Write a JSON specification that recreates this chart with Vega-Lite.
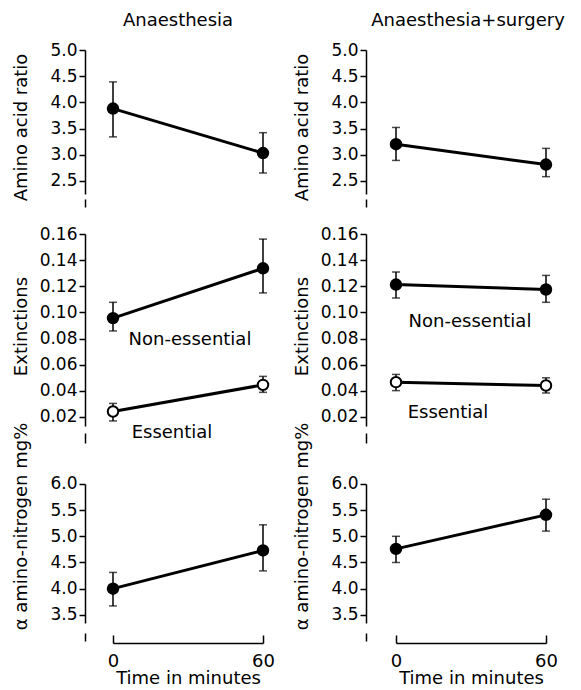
{
  "$schema": "https://vega.github.io/schema/vega-lite/v6.json",
  "background": "white",
  "padding": {"left": 12, "top": 12, "right": 5, "bottom": 5},
  "datasets": {
    "main": [
      {"panel": "A", "series": "main", "t": 0, "mean": 3.88, "lo": 3.34, "hi": 4.39},
      {"panel": "A", "series": "main", "t": 60, "mean": 3.03, "lo": 2.65, "hi": 3.42},
      {"panel": "B", "series": "main", "t": 0, "mean": 3.2, "lo": 2.89, "hi": 3.52},
      {"panel": "B", "series": "main", "t": 60, "mean": 2.81, "lo": 2.58, "hi": 3.12},
      {"panel": "C", "series": "Non-essential", "t": 0, "mean": 0.0956, "lo": 0.0858, "hi": 0.1077},
      {"panel": "C", "series": "Non-essential", "t": 60, "mean": 0.1337, "lo": 0.1149, "hi": 0.1561},
      {"panel": "C", "series": "Essential", "t": 0, "mean": 0.0241, "lo": 0.0169, "hi": 0.0303},
      {"panel": "C", "series": "Essential", "t": 60, "mean": 0.0445, "lo": 0.0388, "hi": 0.051},
      {"panel": "D", "series": "Non-essential", "t": 0, "mean": 0.1213, "lo": 0.111, "hi": 0.1309},
      {"panel": "D", "series": "Non-essential", "t": 60, "mean": 0.1175, "lo": 0.1077, "hi": 0.1283},
      {"panel": "D", "series": "Essential", "t": 0, "mean": 0.0466, "lo": 0.0401, "hi": 0.0525},
      {"panel": "D", "series": "Essential", "t": 60, "mean": 0.044, "lo": 0.0383, "hi": 0.0499},
      {"panel": "E", "series": "main", "t": 0, "mean": 4.0, "lo": 3.67, "hi": 4.31},
      {"panel": "E", "series": "main", "t": 60, "mean": 4.73, "lo": 4.34, "hi": 5.22},
      {"panel": "F", "series": "main", "t": 0, "mean": 4.76, "lo": 4.5, "hi": 5.0},
      {"panel": "F", "series": "main", "t": 60, "mean": 5.41, "lo": 5.1, "hi": 5.71}
    ],
    "labels": [
      {"panel": "C", "label": "Non-essential", "t": 30.8, "v": 0.079},
      {"panel": "C", "label": "Essential", "t": 23.6, "v": 0.008},
      {"panel": "D", "label": "Non-essential", "t": 29.6, "v": 0.093},
      {"panel": "D", "label": "Essential", "t": 20.8, "v": 0.0233}
    ]
  },
  "data": {"name": "main"},
  "columns": 2,
  "spacing": {"row": 27, "column": 133},
  "bounds": "flush",
  "resolve": {"scale": {"x": "independent", "y": "independent"}},
  "concat": [
    {
      "width": 150, "height": 157,
      "title": {"text": "Anaesthesia", "dx": -10},
      "transform": [{"filter": "datum.panel === 'A'"}],
      "encoding": {"x": {"field": "t", "type": "quantitative", "scale": {"domain": [0, 60]}, "axis": null}},
      "layer": [
        {"mark": {"type": "rule", "color": "black", "strokeWidth": 1.5},
         "encoding": {"y": {"field": "lo", "type": "quantitative", "scale": {"domain": [2, 5], "nice": false},
           "axis": {"title": "Amino acid ratio", "values": [2.5, 3, 3.5, 4, 4.5, 5], "format": ".1f", "offset": 28, "titleY": 77, "domainDash": [8, 5, 600]}},
           "y2": {"field": "hi"}}},
        {"mark": {"type": "tick", "orient": "horizontal", "size": 8, "thickness": 1.5, "color": "black"},
         "encoding": {"y": {"field": "lo", "type": "quantitative",
           "axis": {"title": "Amino acid ratio", "values": [2.5, 3, 3.5, 4, 4.5, 5], "format": ".1f", "offset": 28, "titleY": 77, "domainDash": [8, 5, 600]}}}},
        {"mark": {"type": "tick", "orient": "horizontal", "size": 8, "thickness": 1.5, "color": "black"},
         "encoding": {"y": {"field": "hi", "type": "quantitative",
           "axis": {"title": "Amino acid ratio", "values": [2.5, 3, 3.5, 4, 4.5, 5], "format": ".1f", "offset": 28, "titleY": 77, "domainDash": [8, 5, 600]}}}},
        {"mark": {"type": "line", "color": "black", "strokeWidth": 3},
         "encoding": {"y": {"field": "mean", "type": "quantitative",
           "axis": {"title": "Amino acid ratio", "values": [2.5, 3, 3.5, 4, 4.5, 5], "format": ".1f", "offset": 28, "titleY": 77, "domainDash": [8, 5, 600]}}, "detail": {"field": "series"}}},
        {"mark": {"type": "point", "shape": "circle", "size": 110, "filled": true, "stroke": "black", "strokeWidth": 2, "opacity": 1},
         "encoding": {"y": {"field": "mean", "type": "quantitative",
           "axis": {"title": "Amino acid ratio", "values": [2.5, 3, 3.5, 4, 4.5, 5], "format": ".1f", "offset": 28, "titleY": 77, "domainDash": [8, 5, 600]}},
           "fill": {"field": "series", "type": "nominal", "scale": {"domain": ["main", "Non-essential", "Essential"], "range": ["black", "black", "white"]}, "legend": null}}}
      ]
    },
    {
      "width": 150, "height": 157,
      "title": {"text": "Anaesthesia+surgery", "dx": -3},
      "transform": [{"filter": "datum.panel === 'B'"}],
      "encoding": {"x": {"field": "t", "type": "quantitative", "scale": {"domain": [0, 60]}, "axis": null}},
      "layer": [
        {"mark": {"type": "rule", "color": "black", "strokeWidth": 1.5},
         "encoding": {"y": {"field": "lo", "type": "quantitative", "scale": {"domain": [2, 5], "nice": false},
           "axis": {"title": "Amino acid ratio", "values": [2.5, 3, 3.5, 4, 4.5, 5], "format": ".1f", "offset": 30, "titleY": 77, "domainDash": [8, 5, 600]}},
           "y2": {"field": "hi"}}},
        {"mark": {"type": "tick", "orient": "horizontal", "size": 8, "thickness": 1.5, "color": "black"},
         "encoding": {"y": {"field": "lo", "type": "quantitative",
           "axis": {"title": "Amino acid ratio", "values": [2.5, 3, 3.5, 4, 4.5, 5], "format": ".1f", "offset": 30, "titleY": 77, "domainDash": [8, 5, 600]}}}},
        {"mark": {"type": "tick", "orient": "horizontal", "size": 8, "thickness": 1.5, "color": "black"},
         "encoding": {"y": {"field": "hi", "type": "quantitative",
           "axis": {"title": "Amino acid ratio", "values": [2.5, 3, 3.5, 4, 4.5, 5], "format": ".1f", "offset": 30, "titleY": 77, "domainDash": [8, 5, 600]}}}},
        {"mark": {"type": "line", "color": "black", "strokeWidth": 3},
         "encoding": {"y": {"field": "mean", "type": "quantitative",
           "axis": {"title": "Amino acid ratio", "values": [2.5, 3, 3.5, 4, 4.5, 5], "format": ".1f", "offset": 30, "titleY": 77, "domainDash": [8, 5, 600]}}, "detail": {"field": "series"}}},
        {"mark": {"type": "point", "shape": "circle", "size": 110, "filled": true, "stroke": "black", "strokeWidth": 2, "opacity": 1},
         "encoding": {"y": {"field": "mean", "type": "quantitative",
           "axis": {"title": "Amino acid ratio", "values": [2.5, 3, 3.5, 4, 4.5, 5], "format": ".1f", "offset": 30, "titleY": 77, "domainDash": [8, 5, 600]}},
           "fill": {"field": "series", "type": "nominal", "scale": {"domain": ["main", "Non-essential", "Essential"], "range": ["black", "black", "white"]}, "legend": null}}}
      ]
    },
    {
      "width": 150, "height": 209,
      "transform": [{"filter": "datum.panel === 'C'"}],
      "encoding": {"x": {"field": "t", "type": "quantitative", "scale": {"domain": [0, 60]}, "axis": null}},
      "layer": [
        {"mark": {"type": "rule", "color": "black", "strokeWidth": 1.5},
         "encoding": {"y": {"field": "lo", "type": "quantitative", "scale": {"domain": [0, 0.16], "nice": false},
           "axis": {"title": "Extinctions", "values": [0.02, 0.04, 0.06, 0.08, 0.1, 0.12, 0.14, 0.16], "format": ".2f", "offset": 28, "titleY": 92, "domainDash": [10, 7, 600]}},
           "y2": {"field": "hi"}}},
        {"mark": {"type": "tick", "orient": "horizontal", "size": 8, "thickness": 1.5, "color": "black"},
         "encoding": {"y": {"field": "lo", "type": "quantitative",
           "axis": {"title": "Extinctions", "values": [0.02, 0.04, 0.06, 0.08, 0.1, 0.12, 0.14, 0.16], "format": ".2f", "offset": 28, "titleY": 92, "domainDash": [10, 7, 600]}}}},
        {"mark": {"type": "tick", "orient": "horizontal", "size": 8, "thickness": 1.5, "color": "black"},
         "encoding": {"y": {"field": "hi", "type": "quantitative",
           "axis": {"title": "Extinctions", "values": [0.02, 0.04, 0.06, 0.08, 0.1, 0.12, 0.14, 0.16], "format": ".2f", "offset": 28, "titleY": 92, "domainDash": [10, 7, 600]}}}},
        {"mark": {"type": "line", "color": "black", "strokeWidth": 3},
         "encoding": {"y": {"field": "mean", "type": "quantitative",
           "axis": {"title": "Extinctions", "values": [0.02, 0.04, 0.06, 0.08, 0.1, 0.12, 0.14, 0.16], "format": ".2f", "offset": 28, "titleY": 92, "domainDash": [10, 7, 600]}}, "detail": {"field": "series"}}},
        {"mark": {"type": "point", "shape": "circle", "size": 110, "filled": true, "stroke": "black", "strokeWidth": 2, "opacity": 1},
         "encoding": {"y": {"field": "mean", "type": "quantitative",
           "axis": {"title": "Extinctions", "values": [0.02, 0.04, 0.06, 0.08, 0.1, 0.12, 0.14, 0.16], "format": ".2f", "offset": 28, "titleY": 92, "domainDash": [10, 7, 600]}},
           "fill": {"field": "series", "type": "nominal", "scale": {"domain": ["main", "Non-essential", "Essential"], "range": ["black", "black", "white"]}, "legend": null}}},
        {"data": {"name": "labels"},
         "transform": [{"filter": "datum.panel === 'C'"}],
         "mark": {"type": "text", "fontSize": 18, "color": "black", "align": "center", "baseline": "middle"},
         "encoding": {"y": {"field": "v", "type": "quantitative",
           "axis": {"title": "Extinctions", "values": [0.02, 0.04, 0.06, 0.08, 0.1, 0.12, 0.14, 0.16], "format": ".2f", "offset": 28, "titleY": 92, "domainDash": [10, 7, 600]}}, "text": {"field": "label"}}}
      ]
    },
    {
      "width": 150, "height": 209,
      "transform": [{"filter": "datum.panel === 'D'"}],
      "encoding": {"x": {"field": "t", "type": "quantitative", "scale": {"domain": [0, 60]}, "axis": null}},
      "layer": [
        {"mark": {"type": "rule", "color": "black", "strokeWidth": 1.5},
         "encoding": {"y": {"field": "lo", "type": "quantitative", "scale": {"domain": [0, 0.16], "nice": false},
           "axis": {"title": "Extinctions", "values": [0.02, 0.04, 0.06, 0.08, 0.1, 0.12, 0.14, 0.16], "format": ".2f", "offset": 30, "titleY": 92, "domainDash": [10, 7, 600]}},
           "y2": {"field": "hi"}}},
        {"mark": {"type": "tick", "orient": "horizontal", "size": 8, "thickness": 1.5, "color": "black"},
         "encoding": {"y": {"field": "lo", "type": "quantitative",
           "axis": {"title": "Extinctions", "values": [0.02, 0.04, 0.06, 0.08, 0.1, 0.12, 0.14, 0.16], "format": ".2f", "offset": 30, "titleY": 92, "domainDash": [10, 7, 600]}}}},
        {"mark": {"type": "tick", "orient": "horizontal", "size": 8, "thickness": 1.5, "color": "black"},
         "encoding": {"y": {"field": "hi", "type": "quantitative",
           "axis": {"title": "Extinctions", "values": [0.02, 0.04, 0.06, 0.08, 0.1, 0.12, 0.14, 0.16], "format": ".2f", "offset": 30, "titleY": 92, "domainDash": [10, 7, 600]}}}},
        {"mark": {"type": "line", "color": "black", "strokeWidth": 3},
         "encoding": {"y": {"field": "mean", "type": "quantitative",
           "axis": {"title": "Extinctions", "values": [0.02, 0.04, 0.06, 0.08, 0.1, 0.12, 0.14, 0.16], "format": ".2f", "offset": 30, "titleY": 92, "domainDash": [10, 7, 600]}}, "detail": {"field": "series"}}},
        {"mark": {"type": "point", "shape": "circle", "size": 110, "filled": true, "stroke": "black", "strokeWidth": 2, "opacity": 1},
         "encoding": {"y": {"field": "mean", "type": "quantitative",
           "axis": {"title": "Extinctions", "values": [0.02, 0.04, 0.06, 0.08, 0.1, 0.12, 0.14, 0.16], "format": ".2f", "offset": 30, "titleY": 92, "domainDash": [10, 7, 600]}},
           "fill": {"field": "series", "type": "nominal", "scale": {"domain": ["main", "Non-essential", "Essential"], "range": ["black", "black", "white"]}, "legend": null}}},
        {"data": {"name": "labels"},
         "transform": [{"filter": "datum.panel === 'D'"}],
         "mark": {"type": "text", "fontSize": 18, "color": "black", "align": "center", "baseline": "middle"},
         "encoding": {"y": {"field": "v", "type": "quantitative",
           "axis": {"title": "Extinctions", "values": [0.02, 0.04, 0.06, 0.08, 0.1, 0.12, 0.14, 0.16], "format": ".2f", "offset": 30, "titleY": 92, "domainDash": [10, 7, 600]}}, "text": {"field": "label"}}}
      ]
    },
    {
      "width": 150, "height": 171,
      "transform": [{"filter": "datum.panel === 'E'"}],
      "encoding": {"x": {"field": "t", "type": "quantitative", "scale": {"domain": [0, 60]},
        "axis": {"title": "Time in minutes", "values": [0, 60], "format": "d", "tickSize": -8, "labelPadding": 17, "offset": 2, "labelFlush": false, "titlePadding": -1}}},
      "layer": [
        {"mark": {"type": "rule", "color": "black", "strokeWidth": 1.5},
         "encoding": {"y": {"field": "lo", "type": "quantitative", "scale": {"domain": [3, 6.267], "nice": false},
           "axis": {"title": "α amino-nitrogen mg%", "values": [3.5, 4, 4.5, 5, 5.5, 6], "format": ".1f", "offset": 28, "titleY": 56, "domainDash": [8, 10, 139, 1000]}},
           "y2": {"field": "hi"}}},
        {"mark": {"type": "tick", "orient": "horizontal", "size": 8, "thickness": 1.5, "color": "black"},
         "encoding": {"y": {"field": "lo", "type": "quantitative",
           "axis": {"title": "α amino-nitrogen mg%", "values": [3.5, 4, 4.5, 5, 5.5, 6], "format": ".1f", "offset": 28, "titleY": 56, "domainDash": [8, 10, 139, 1000]}}}},
        {"mark": {"type": "tick", "orient": "horizontal", "size": 8, "thickness": 1.5, "color": "black"},
         "encoding": {"y": {"field": "hi", "type": "quantitative",
           "axis": {"title": "α amino-nitrogen mg%", "values": [3.5, 4, 4.5, 5, 5.5, 6], "format": ".1f", "offset": 28, "titleY": 56, "domainDash": [8, 10, 139, 1000]}}}},
        {"mark": {"type": "line", "color": "black", "strokeWidth": 3},
         "encoding": {"y": {"field": "mean", "type": "quantitative",
           "axis": {"title": "α amino-nitrogen mg%", "values": [3.5, 4, 4.5, 5, 5.5, 6], "format": ".1f", "offset": 28, "titleY": 56, "domainDash": [8, 10, 139, 1000]}}, "detail": {"field": "series"}}},
        {"mark": {"type": "point", "shape": "circle", "size": 110, "filled": true, "stroke": "black", "strokeWidth": 2, "opacity": 1},
         "encoding": {"y": {"field": "mean", "type": "quantitative",
           "axis": {"title": "α amino-nitrogen mg%", "values": [3.5, 4, 4.5, 5, 5.5, 6], "format": ".1f", "offset": 28, "titleY": 56, "domainDash": [8, 10, 139, 1000]}},
           "fill": {"field": "series", "type": "nominal", "scale": {"domain": ["main", "Non-essential", "Essential"], "range": ["black", "black", "white"]}, "legend": null}}}
      ]
    },
    {
      "width": 150, "height": 171,
      "transform": [{"filter": "datum.panel === 'F'"}],
      "encoding": {"x": {"field": "t", "type": "quantitative", "scale": {"domain": [0, 60]},
        "axis": {"title": "Time in minutes", "values": [0, 60], "format": "d", "tickSize": -8, "labelPadding": 17, "offset": 2, "labelFlush": false, "titlePadding": -1}}},
      "layer": [
        {"mark": {"type": "rule", "color": "black", "strokeWidth": 1.5},
         "encoding": {"y": {"field": "lo", "type": "quantitative", "scale": {"domain": [3, 6.267], "nice": false},
           "axis": {"title": "α amino-nitrogen mg%", "values": [3.5, 4, 4.5, 5, 5.5, 6], "format": ".1f", "offset": 30, "titleY": 56, "domainDash": [8, 10, 139, 1000]}},
           "y2": {"field": "hi"}}},
        {"mark": {"type": "tick", "orient": "horizontal", "size": 8, "thickness": 1.5, "color": "black"},
         "encoding": {"y": {"field": "lo", "type": "quantitative",
           "axis": {"title": "α amino-nitrogen mg%", "values": [3.5, 4, 4.5, 5, 5.5, 6], "format": ".1f", "offset": 30, "titleY": 56, "domainDash": [8, 10, 139, 1000]}}}},
        {"mark": {"type": "tick", "orient": "horizontal", "size": 8, "thickness": 1.5, "color": "black"},
         "encoding": {"y": {"field": "hi", "type": "quantitative",
           "axis": {"title": "α amino-nitrogen mg%", "values": [3.5, 4, 4.5, 5, 5.5, 6], "format": ".1f", "offset": 30, "titleY": 56, "domainDash": [8, 10, 139, 1000]}}}},
        {"mark": {"type": "line", "color": "black", "strokeWidth": 3},
         "encoding": {"y": {"field": "mean", "type": "quantitative",
           "axis": {"title": "α amino-nitrogen mg%", "values": [3.5, 4, 4.5, 5, 5.5, 6], "format": ".1f", "offset": 30, "titleY": 56, "domainDash": [8, 10, 139, 1000]}}, "detail": {"field": "series"}}},
        {"mark": {"type": "point", "shape": "circle", "size": 110, "filled": true, "stroke": "black", "strokeWidth": 2, "opacity": 1},
         "encoding": {"y": {"field": "mean", "type": "quantitative",
           "axis": {"title": "α amino-nitrogen mg%", "values": [3.5, 4, 4.5, 5, 5.5, 6], "format": ".1f", "offset": 30, "titleY": 56, "domainDash": [8, 10, 139, 1000]}},
           "fill": {"field": "series", "type": "nominal", "scale": {"domain": ["main", "Non-essential", "Essential"], "range": ["black", "black", "white"]}, "legend": null}}}
      ]
    }
  ],
  "config": {
    "view": {"stroke": null},
    "font": "DejaVu Sans",
    "axis": {
      "labelFont": "DejaVu Sans", "labelFontSize": 17, "labelColor": "black",
      "titleFont": "DejaVu Sans", "titleFontSize": 18, "titleFontWeight": "normal", "titleColor": "black",
      "domainColor": "black", "domainWidth": 1.5, "tickColor": "black", "tickWidth": 1.5, "grid": false
    },
    "axisY": {"tickSize": 6, "labelPadding": 2, "titleX": -59, "titleBaseline": "alphabetic", "titleAlign": "center", "titleAngle": -90},
    "axisX": {"labelFontSize": 18},
    "title": {"font": "DejaVu Sans", "fontSize": 18, "fontWeight": "normal", "color": "black", "frame": "group", "offset": 11, "anchor": "middle"}
  }
}
